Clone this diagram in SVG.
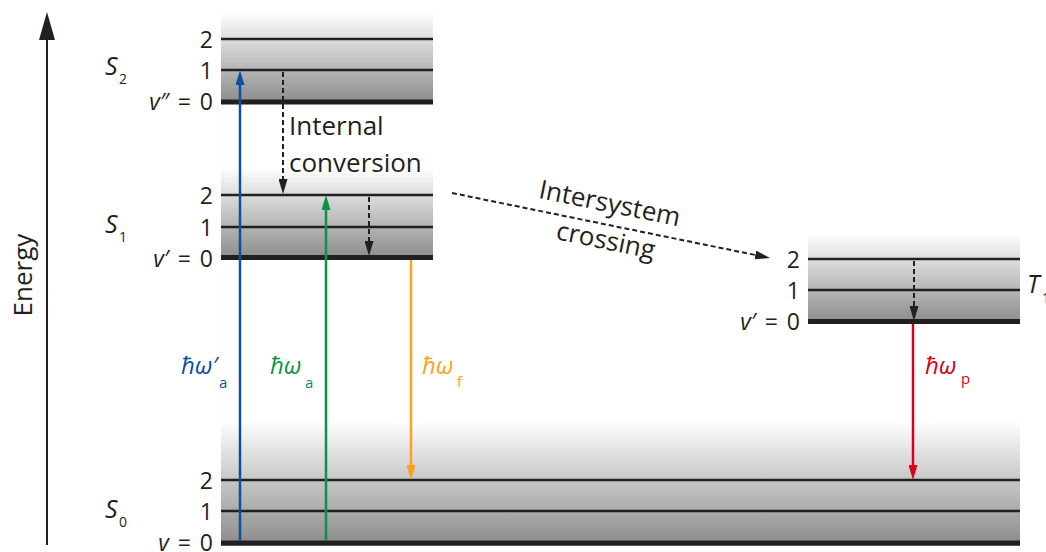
<svg xmlns="http://www.w3.org/2000/svg" width="1046" height="552" viewBox="0 0 1046 552">
<defs>
<linearGradient id="band" x1="0" y1="0" x2="0" y2="1">
<stop offset="0" stop-color="#ffffff"/>
<stop offset="1" stop-color="#8a8a8a"/>
</linearGradient>
<marker id="mk" markerUnits="userSpaceOnUse" markerWidth="15" markerHeight="9" viewBox="0 0 15 9" refX="0" refY="4.5" orient="auto"><path d="M0,0 L15,4.5 L0,9 z" fill="#231f20"/></marker>
<marker id="mb" markerUnits="userSpaceOnUse" markerWidth="15" markerHeight="9" viewBox="0 0 15 9" refX="0" refY="4.5" orient="auto"><path d="M0,0 L15,4.5 L0,9 z" fill="#0d4fa2"/></marker>
<marker id="mg" markerUnits="userSpaceOnUse" markerWidth="15" markerHeight="9" viewBox="0 0 15 9" refX="0" refY="4.5" orient="auto"><path d="M0,0 L15,4.5 L0,9 z" fill="#0a9447"/></marker>
<marker id="mo" markerUnits="userSpaceOnUse" markerWidth="15" markerHeight="9" viewBox="0 0 15 9" refX="0" refY="4.5" orient="auto"><path d="M0,0 L15,4.5 L0,9 z" fill="#f9a41c"/></marker>
<marker id="mr" markerUnits="userSpaceOnUse" markerWidth="15" markerHeight="9" viewBox="0 0 15 9" refX="0" refY="4.5" orient="auto"><path d="M0,0 L15,4.5 L0,9 z" fill="#d8001c"/></marker>
</defs>
<style>
.band{fill:url(#band)}
.lvl{stroke:#231f20;stroke-width:2.5}
.gnd{stroke:#231f20;stroke-width:5}
.t{font-family:"Open Sans","DejaVu Sans",sans-serif;fill:#231f20}
.num{font-size:23px;text-anchor:end;word-spacing:3px}
.it{font-style:italic}
.st{font-size:25px}
.sub{font-size:14px;font-style:normal}
.lab{font-size:26px}
.dash{stroke:#231f20;stroke-width:2;stroke-dasharray:5 3;fill:none}
.arr{stroke-width:2.5;fill:none}
.hw{font-size:24px;font-style:italic}
.hs{font-size:15px;font-style:normal}
</style>
<rect width="1046" height="552" fill="#ffffff"/>

<g id="axis">
<line x1="47" y1="545" x2="47" y2="38" stroke="#231f20" stroke-width="2"/>
<polygon points="47,12 39,40 55,40" fill="#231f20"/>
<text class="t lab" transform="translate(32,275) rotate(-90)" text-anchor="middle">Energy</text>
</g>

<g id="S2">
<rect class="band" x="221" y="12" width="212" height="92"/>
<line class="lvl" x1="221" y1="39" x2="433" y2="39"/>
<line class="lvl" x1="221" y1="70" x2="433" y2="70"/>
<line class="gnd" x1="221" y1="102" x2="433" y2="102"/>
<text class="t num" x="213" y="48">2</text>
<text class="t num" x="213" y="79">1</text>
<text class="t num" x="213" y="110"><tspan class="it">v″</tspan> = 0</text>
<text class="t it st" x="105" y="75">S</text><text class="t sub" x="119" y="84">2</text>
</g>

<g id="S1">
<rect class="band" x="221" y="167" width="212" height="93"/>
<line class="lvl" x1="221" y1="195" x2="433" y2="195"/>
<line class="lvl" x1="221" y1="227" x2="433" y2="227"/>
<line class="gnd" x1="221" y1="257.5" x2="433" y2="257.5"/>
<text class="t num" x="213" y="204">2</text>
<text class="t num" x="213" y="236">1</text>
<text class="t num" x="213" y="267"><tspan class="it">v′</tspan> = 0</text>
<text class="t it st" x="105" y="233">S</text><text class="t sub" x="119" y="242">1</text>
</g>

<g id="T1">
<rect class="band" x="808" y="233" width="212" height="91"/>
<line class="lvl" x1="808" y1="259" x2="1020" y2="259"/>
<line class="lvl" x1="808" y1="290" x2="1020" y2="290"/>
<line class="gnd" x1="808" y1="321.5" x2="1020" y2="321.5"/>
<text class="t num" x="800" y="268">2</text>
<text class="t num" x="800" y="299">1</text>
<text class="t num" x="800" y="330"><tspan class="it">v′</tspan> = 0</text>
<text class="t it st" x="1027" y="293">T</text><text class="t sub" x="1042" y="303">1</text>
</g>

<g id="S0">
<rect class="band" x="221" y="420" width="799" height="126"/>
<line class="lvl" x1="221" y1="480" x2="1020" y2="480"/>
<line class="lvl" x1="221" y1="511" x2="1020" y2="511"/>
<line class="gnd" x1="221" y1="543" x2="1020" y2="543"/>
<text class="t num" x="213" y="489">2</text>
<text class="t num" x="213" y="520">1</text>
<text class="t num" x="213" y="551"><tspan class="it">v</tspan> = 0</text>
<text class="t it st" x="105" y="518">S</text><text class="t sub" x="119" y="527">0</text>
</g>

<g id="connectors">
<line class="arr" stroke="#0d4fa2" x1="240" y1="541" x2="240" y2="85" marker-end="url(#mb)"/>
<line class="arr" stroke="#0a9447" x1="326" y1="541" x2="326" y2="210" marker-end="url(#mg)"/>
<line class="arr" stroke="#f9a41c" x1="411" y1="260" x2="411" y2="465" marker-end="url(#mo)"/>
<line class="arr" stroke="#d8001c" x1="913" y1="324" x2="913" y2="465" marker-end="url(#mr)"/>
<line class="dash" x1="283" y1="72" x2="283" y2="179" marker-end="url(#mk)"/>
<line class="dash" x1="369" y1="197" x2="369" y2="241" marker-end="url(#mk)"/>
<line class="dash" x1="914" y1="261" x2="914" y2="306" marker-end="url(#mk)"/>
<line class="dash" x1="452" y1="193" x2="755.3" y2="255" marker-end="url(#mk)"/>
</g>

<g id="labels">
<text class="t lab" x="289" y="135">Internal</text>
<text class="t lab" x="289" y="172">conversion</text>
<text class="t lab" transform="translate(608,212) rotate(11.5)" text-anchor="middle">Intersystem</text>
<text class="t lab" transform="translate(604,249) rotate(11.5)" text-anchor="middle">crossing</text>
<text class="t hw" x="181" y="374" style="fill:#0d4fa2">ħω′</text><text class="t hs" x="219" y="388" style="fill:#0d4fa2">a</text>
<text class="t hw" x="270" y="374" style="fill:#0a9447">ħω</text><text class="t hs" x="305" y="388" style="fill:#0a9447">a</text>
<text class="t hw" x="422" y="374" style="fill:#f9a41c">ħω</text><text class="t hs" x="457" y="387" style="fill:#f9a41c">f</text>
<text class="t hw" x="925" y="374" style="fill:#d8001c">ħω</text><text class="t hs" x="961" y="384" style="fill:#d8001c">p</text>
</g>
</svg>
